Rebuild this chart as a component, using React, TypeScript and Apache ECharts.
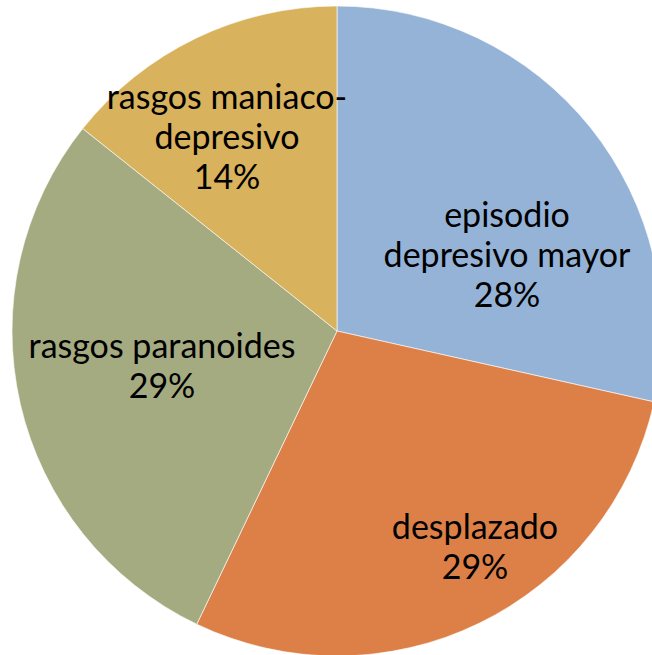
import React, { useEffect, useRef } from "react";
import * as echarts from "echarts";

const categories = [
  "episodio\ndepresivo mayor",
  "desplazado",
  "rasgos paranoides",
  "rasgos maniaco-\ndepresivo",
];
const values = [28.5, 28.6, 28.6, 14.3];
const colors = ["#95B3D7", "#DD8047", "#A5AB81", "#D8B25C"];
const labelCenters: [number, number][] = [
  [507, 253],
  [475, 545],
  [162, 364],
  [227, 135],
];

export default function App() {
  const ref = useRef<HTMLDivElement>(null);
  useEffect(() => {
    if (!ref.current) return;
    const chart = echarts.init(ref.current, undefined, { renderer: "svg" });
    chart.setOption({
      animation: false,
      backgroundColor: "#ffffff",
      series: [
        {
          type: "pie",
          center: [337, 331],
          radius: 325,
          startAngle: 90,
          clockwise: true,
          percentPrecision: 0,
          avoidLabelOverlap: false,
          itemStyle: { borderColor: "#ffffff", borderWidth: 0.6 },
          label: {
            show: true,
            position: "inside",
            formatter: "{b}\n{d}%",
            color: "#000000",
            fontFamily: "Lato",
            fontSize: 34,
            lineHeight: 40,
            align: "center",
          },
          labelLine: { show: false },
          labelLayout: (params: any) => {
            const p = labelCenters[params.dataIndex];
            return { x: p[0], y: p[1], align: "center", verticalAlign: "middle" };
          },
          data: categories.map((c, i) => ({
            name: c,
            value: values[i],
            itemStyle: { color: colors[i] },
          })),
        },
      ],
    });
    return () => chart.dispose();
  }, []);
  return (
    <div
      ref={ref}
      style={{ position: "fixed", left: 0, top: 0, width: 652, height: 655 }}
    />
  );
}
